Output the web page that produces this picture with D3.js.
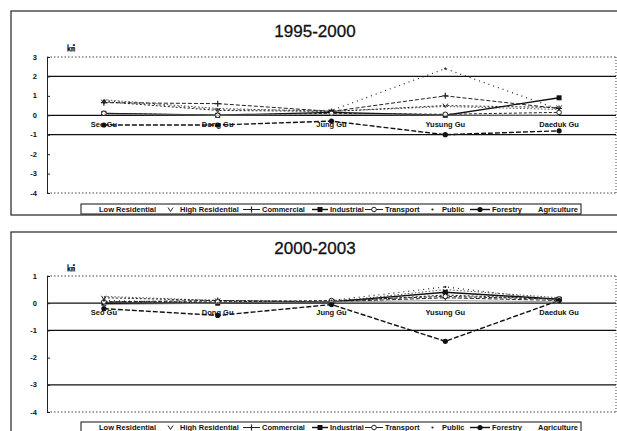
<!DOCTYPE html>
<html><head><meta charset="utf-8">
<script src="https://cdn.jsdelivr.net/npm/d3@7/dist/d3.min.js"></script>
<style>body{margin:0;background:#fff}svg{display:block}</style>
</head><body>
<script>
const categories = ["Seo Gu","Dong Gu","Jung Gu","Yusung Gu","Daeduk Gu"];
const seriesNames = ["Low Residential","High Residential","Commercial","Industrial","Transport","Public","Forestry","Agriculture"];
const titles = ["1995-2000","2000-2003"];
const unitLabel = "㎢";
// 1995-2000
const lowRes1 = [0.8, 0.35, 0.2, 0.45, 0.3];
const highRes1 = [0.7, 0.25, 0.2, 0.5, 0.4];
const commercial1 = [0.65, 0.6, 0.2, 1.0, 0.35];
const industrial1 = [0.1, 0.0, 0.15, 0.0, 0.9];
const transport1 = [0.1, 0.0, 0.1, 0.05, 0.15];
const public1 = [0.75, 0.3, 0.25, 2.4, 0.3];
const forestry1 = [-0.5, -0.5, -0.3, -1.0, -0.8];
const agriculture1 = [0.05, 0.0, 0.05, 0.0, 0.0];
// 2000-2003
const lowRes2 = [0.25, 0.1, 0.05, 0.5, 0.2];
const highRes2 = [0.2, 0.1, 0.05, 0.3, 0.15];
const commercial2 = [0.05, 0.1, 0.05, 0.2, 0.1];
const industrial2 = [0.0, 0.0, 0.05, 0.4, 0.15];
const transport2 = [0.05, 0.05, 0.1, 0.25, 0.15];
const public2 = [0.1, 0.0, 0.1, 0.6, 0.1];
const forestry2 = [-0.2, -0.45, -0.05, -1.4, 0.1];
const agriculture2 = [-0.05, 0.0, 0.05, 0.1, 0.05];
const yTicks1 = [3,2,1,0,-1,-2,-3,-4];
const yTicks2 = [1,0,-1,-2,-3,-4];
const grid1 = [2,0,-1];
const grid2 = [0,-1,-3];

const panelData = [
  [lowRes1, highRes1, commercial1, industrial1, transport1, public1, forestry1, agriculture1],
  [lowRes2, highRes2, commercial2, industrial2, transport2, public2, forestry2, agriculture2]
];
const styles = [
  {dash:"1.5,2", w:1, c:"#555", m:null},
  {dash:"2,2", w:1, c:"#222", m:"v"},
  {dash:"4,2", w:1, c:"#222", m:"plus"},
  {dash:null, w:1.4, c:"#111", m:"square"},
  {dash:"3,2", w:1, c:"#222", m:"circle"},
  {dash:"1,4", w:1.2, c:"#222", m:"dot"},
  {dash:"5,2", w:1.4, c:"#111", m:"fcircle"},
  {dash:null, w:0.8, c:"#888", m:null}
];

const W = 617, H = 431;
const svg = d3.select("body").append("svg").attr("width",W).attr("height",H);
const font = "'Liberation Sans', Arial, sans-serif";

function marker(g, type, x, y, c){
  if(!type) return;
  if(type==="v") g.append("path").attr("d",`M${x-2.5},${y-2}L${x},${y+2}L${x+2.5},${y-2}`).attr("fill","none").attr("stroke",c).attr("stroke-width",1);
  else if(type==="plus") g.append("path").attr("d",`M${x},${y-3}V${y+3}M${x-3},${y}H${x+3}`).attr("stroke",c).attr("stroke-width",1.2);
  else if(type==="square") g.append("rect").attr("x",x-2.5).attr("y",y-2.5).attr("width",5).attr("height",5).attr("fill",c);
  else if(type==="circle") g.append("circle").attr("cx",x).attr("cy",y).attr("r",2.3).attr("fill","#fff").attr("stroke",c).attr("stroke-width",1);
  else if(type==="dot") g.append("circle").attr("cx",x).attr("cy",y).attr("r",1.1).attr("fill",c);
  else if(type==="fcircle") g.append("circle").attr("cx",x).attr("cy",y).attr("r",2.6).attr("fill",c);
}

const panels = [
  {top:11, frameH:204, yTop:57, yBot:193, ticks:yTicks1, grid:grid1, titleY:37, unitY:51, legY:204},
  {top:232, frameH:205, yTop:276, yBot:412, ticks:yTicks2, grid:grid2, titleY:254, unitY:271, legY:422}
];

panels.forEach((p, pi) => {
  const g = svg.append("g");
  g.append("rect").attr("x",11).attr("y",p.top).attr("width",W).attr("height",p.frameH)
    .attr("fill","none").attr("stroke","#222").attr("stroke-width",1.2);
  g.append("text").attr("x",315).attr("y",p.titleY).attr("text-anchor","middle")
    .attr("font-family",font).attr("font-size",17).attr("fill","#111").attr("stroke","#111").attr("stroke-width",0.3).text(titles[pi]);

  const x = d3.scalePoint().domain(categories).range([47,616]).padding(0.5);
  const y = d3.scaleLinear().domain([p.ticks[p.ticks.length-1], p.ticks[0]]).range([p.yBot, p.yTop]);

  g.append("line").attr("x1",47).attr("x2",616).attr("y1",y(p.ticks[0])).attr("y2",y(p.ticks[0])).attr("stroke","#444").attr("stroke-dasharray","1.5,2");
  g.append("line").attr("x1",47).attr("x2",616).attr("y1",y(p.ticks[p.ticks.length-1])).attr("y2",y(p.ticks[p.ticks.length-1])).attr("stroke","#444").attr("stroke-dasharray","1.5,2");
  g.append("line").attr("x1",616).attr("x2",616).attr("y1",p.yTop).attr("y2",p.yBot).attr("stroke","#444").attr("stroke-dasharray","1,2");
  p.grid.forEach(v => g.append("line").attr("x1",47).attr("x2",616).attr("y1",y(v)).attr("y2",y(v)).attr("stroke","#111").attr("stroke-width",1.2));

  const ax = g.append("g").attr("transform","translate(47,0)")
    .call(d3.axisRight(y).tickValues(p.ticks).tickSize(3).tickFormat(""));
  ax.select(".domain").attr("stroke","#222");
  ax.selectAll(".tick line").attr("stroke","#222");
  g.selectAll(".ylab").data(p.ticks).enter().append("text")
    .attr("x",37).attr("y",d=>y(d)+2.5).attr("text-anchor","end")
    .attr("font-family",font).attr("font-weight","bold").attr("font-size",7.5).attr("fill","#111").text(d=>d);
  g.append("text").attr("x",71).attr("y",p.unitY).attr("text-anchor","middle")
    .attr("font-family","'Noto Sans CJK KR', sans-serif").attr("font-weight","bold").attr("font-size",8).attr("fill","#111").text(unitLabel);

  g.selectAll(".cat").data(categories).enter().append("text")
    .attr("x",d=>x(d)).attr("y",y(0)+12).attr("text-anchor","middle")
    .attr("font-family",font).attr("font-weight","bold").attr("font-size",7.5).attr("fill","#111").text(d=>d);

  const line = d3.line().x((d,i)=>x(categories[i])).y(d=>y(d));
  panelData[pi].forEach((vals, si) => {
    const s = styles[si];
    g.append("path").datum(vals).attr("d",line).attr("fill","none")
      .attr("stroke",s.c).attr("stroke-width",s.w).attr("stroke-dasharray",s.dash);
    vals.forEach((v,i)=>marker(g, s.m, x(categories[i]), y(v), s.c));
  });

  const lg = g.append("g");
  lg.append("rect").attr("x",81).attr("y",p.legY).attr("width",500).attr("height",10)
    .attr("fill","#fff").attr("stroke","#111").attr("stroke-width",1);
  const symStarts = [83,163,243,312,365,425,470,519];
  const textStarts = [99,180,262,330,385,442,492,538];
  seriesNames.forEach((n,i)=>{
    const s = styles[i];
    const cy = p.legY+5.5;
    const sx0 = symStarts[i], sx1 = textStarts[i]-2;
    if(i!==0 && i!==7 && s.m!=="v" && s.m!=="dot"){
      lg.append("line").attr("x1",sx0).attr("x2",sx1).attr("y1",cy).attr("y2",cy)
        .attr("stroke",s.c).attr("stroke-width",s.w);
    }
    marker(lg, s.m, (sx0+sx1)/2, cy, s.c);
    lg.append("text").attr("x",textStarts[i]).attr("y",cy+2.5)
      .attr("font-family",font).attr("font-weight","bold").attr("font-size",7.5).attr("fill","#111").text(n);
  });
});
</script>
</body></html>
